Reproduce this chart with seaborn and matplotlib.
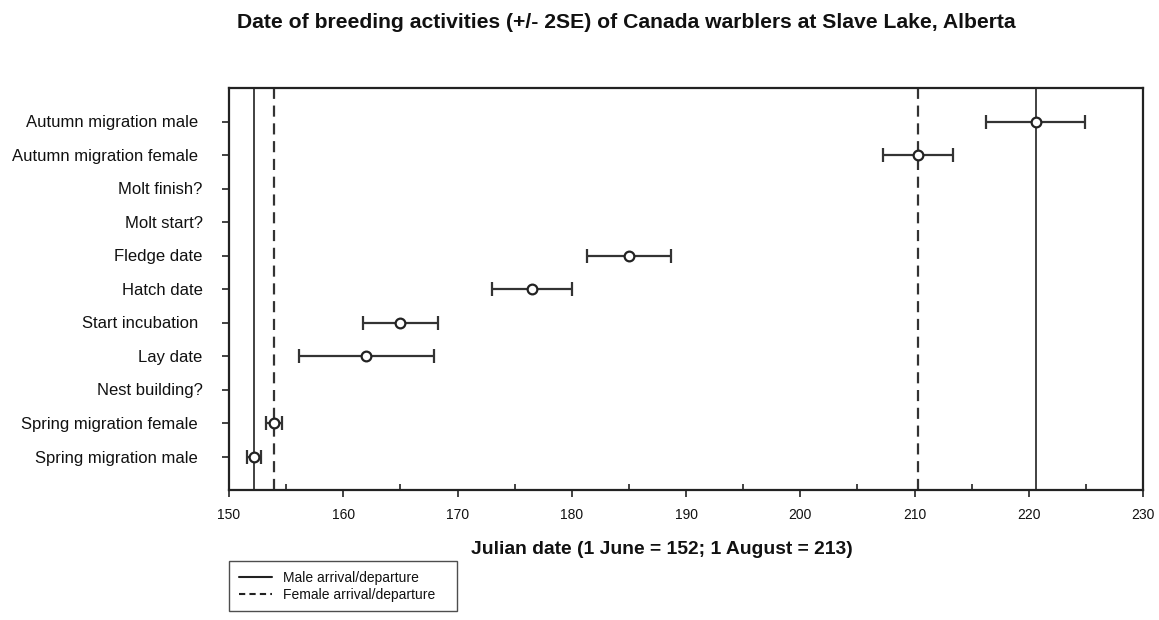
import numpy as np
import pandas as pd
import matplotlib
matplotlib.use("Agg")
import matplotlib.pyplot as plt
import seaborn as sns
from matplotlib.lines import Line2D

categories = [
    "Autumn migration male ",
    "Autumn migration female ",
    "Molt finish?",
    "Molt start?",
    "Fledge date",
    "Hatch date",
    "Start incubation ",
    "Lay date",
    "Nest building?",
    "Spring migration female ",
    "Spring migration male ",
]
means = [220.6, 210.3, np.nan, np.nan, 185.0, 176.5, 165.0, 162.0, np.nan, 153.9, 152.2]
errs = [4.3, 3.1, np.nan, np.nan, 3.7, 3.5, 3.3, 5.9, np.nan, 0.7, 0.6]

male_lines = [152.2, 220.6]
female_lines = [153.9, 210.3]

sns.set_theme(style="white")
plt.rcParams["font.family"] = ["Liberation Sans", "DejaVu Sans"]
plt.rcParams["text.color"] = "#111111"
plt.rcParams["xtick.color"] = "#111111"
plt.rcParams["ytick.color"] = "#111111"
plt.rcParams["axes.labelcolor"] = "#111111"

df = pd.DataFrame({"activity": categories, "date": means, "err": errs})

fig = plt.figure(figsize=(11.59, 6.2), dpi=100)
ax = fig.add_axes([229 / 1159, 1 - 490 / 620, (1143 - 229) / 1159, (490 - 88) / 620])

for v in male_lines:
    ax.axvline(v, color="#333333", lw=1.3, ls="-", zorder=1)
for v in female_lines:
    ax.axvline(v, color="#333333", lw=1.6, ls=(0, (5, 3)), zorder=1)

ypos = np.arange(len(categories))
ax.errorbar(df["date"], ypos, xerr=df["err"], fmt="none", ecolor="#333333",
            elinewidth=1.6, capsize=5, capthick=1.6, zorder=2)

sns.pointplot(data=df, x="date", y="activity", order=categories, ax=ax,
              linestyle="none", errorbar=None, marker="o", markersize=7,
              markerfacecolor="white", markeredgecolor="#222222",
              markeredgewidth=1.6, color="#222222", zorder=3)

ax.set_xlim(150, 230)
ax.set_ylim(len(categories), -1)
ax.set_xticks(np.arange(150, 231, 10))
ax.set_xticks(np.arange(155, 230, 10), minor=True)
ax.set_yticks(ypos)
ax.set_yticklabels(categories)

for s in ax.spines.values():
    s.set_color("#222222")
    s.set_linewidth(1.6)

ax.tick_params(axis="x", which="major", direction="out", length=5, width=1.2,
               color="#222222", labelsize=10, pad=8, bottom=True)
ax.tick_params(axis="x", which="minor", direction="in", length=4, width=1.2,
               color="#222222", bottom=True)
ax.tick_params(axis="y", which="major", direction="out", length=5, width=1.2,
               color="#222222", labelsize=12, pad=14, left=True)

ax.set_xlabel("Julian date (1 June = 152; 1 August = 213)", fontsize=13.9,
              fontweight="bold")
ax.xaxis.set_label_coords((662 - 229) / 914, -0.128)
ax.set_ylabel("")

fig.text(626 / 1159, 1 - 22 / 620,
         "Date of breeding activities (+/- 2SE) of Canada warblers at Slave Lake, Alberta",
         ha="center", va="center", fontsize=15.2, fontweight="bold")

handles = [Line2D([0], [0], color="#222222", lw=1.5, ls="-"),
           Line2D([0], [0], color="#222222", lw=1.5, ls=(0, (3, 2)))]
leg = fig.legend(handles, ["Male arrival/departure   ", "Female arrival/departure   "],
                 loc="upper left", bbox_to_anchor=(229 / 1159, 1 - 561 / 620),
                 frameon=True, fancybox=False, fontsize=10, handlelength=2.4,
                 borderpad=0.7, labelspacing=0.2, borderaxespad=0)
leg.get_frame().set_edgecolor("#222222")
leg.get_frame().set_linewidth(1.0)

fig.savefig("out.png", dpi=100)
